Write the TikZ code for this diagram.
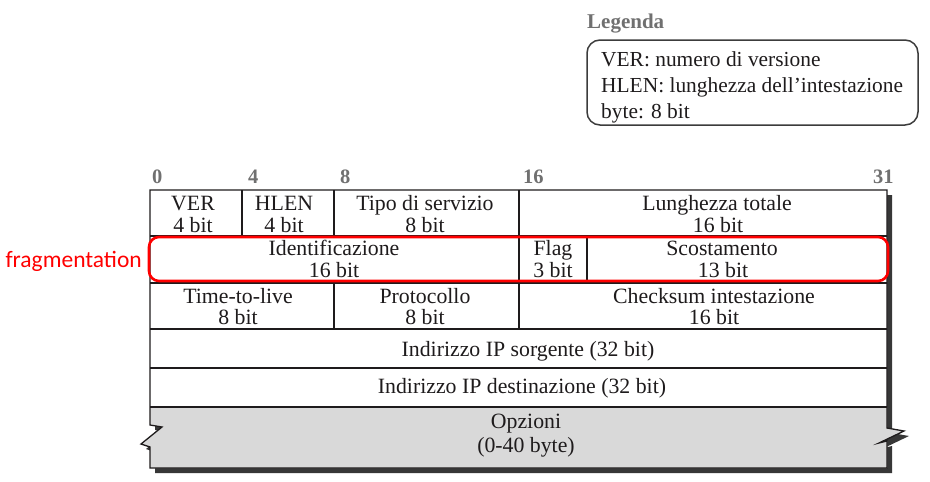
\documentclass[tikz,border=0pt]{standalone}
\usepackage{fontspec}
\setmainfont{Liberation Serif}
\newfontfamily\notefont{Carlito}
\definecolor{ink}{RGB}{30,27,28}
\definecolor{bitgray}{RGB}{112,112,112}
\definecolor{shadowgray}{RGB}{55,55,55}
\definecolor{optfill}{RGB}{217,217,217}
\definecolor{fragred}{RGB}{255,0,0}
\definecolor{boxline}{RGB}{60,60,60}

\begin{document}
\begin{tikzpicture}[x=1pt,y=-1pt,
  txt/.style={inner sep=0pt, text=ink, font=\fontsize{21.8}{22}\selectfont, anchor=base},
  leg/.style={inner sep=0pt, text=ink, font=\fontsize{21.4}{22}\selectfont, anchor=base west},
  bitnum/.style={inner sep=0pt, text=bitgray, font=\fontsize{20.5}{22}\selectfont\bfseries, anchor=base west},
  gridline/.style={draw=ink, line width=1.2pt},
  outline/.style={draw=ink, line width=1.3pt, line join=miter},
  legendbox/.style={draw=boxline, line width=1.5pt, rounded corners=13pt},
  fragbox/.style={draw=fragred, line width=2.6pt, rounded corners=10pt},
  fraglabel/.style={inner sep=0pt, text=fragred, font=\notefont\fontsize{23.5}{25}\selectfont, anchor=base east}]

\useasboundingbox (0,0) rectangle (930,482);

% ---- legend ----
\node[inner sep=0pt, text=bitgray, font=\fontsize{21}{22}\selectfont\bfseries, anchor=base west]
  (legtitle) at (587,28) {Legenda};
\draw[legendbox] (587,40) rectangle (918,125);
\node[leg] (leg1) at (601,66) {VER: numero di versione};
\node[leg] (leg2) at (601,92) {HLEN: lunghezza dell’intestazione};
\node[leg] (leg3) at (601,118) {byte: 8 bit};

% ---- drop shadow of the header block ----
\fill[shadowgray] (155,195) -- (892,195) -- (892,433) -- (909,436) -- (884,448) -- (892,446)
  -- (892,473) -- (155,473) -- (155,452) -- (146,449) -- (167,432) -- (155,430) -- cycle;

% ---- header block body ----
\fill[white] (150,190) -- (887,190) -- (887,428) -- (904,431) -- (879,443) -- (887,441)
  -- (887,468) -- (150,468) -- (150,447) -- (141,444) -- (162,427) -- (150,425) -- cycle;
% options area
\fill[optfill] (150,407) -- (887,407) -- (887,428) -- (904,431) -- (879,443) -- (887,441)
  -- (887,468) -- (150,468) -- (150,447) -- (141,444) -- (162,427) -- (150,425) -- cycle;

% row separators
\draw[gridline] (150,236) -- (887,236);
\draw[gridline] (150,283) -- (887,283);
\draw[gridline] (150,329) -- (887,329);
\draw[gridline] (150,368) -- (887,368);
\draw[gridline] (150,407) -- (887,407);
% column separators
\draw[gridline] (242,190) -- (242,236);
\draw[gridline] (334,190) -- (334,236);
\draw[gridline] (519,190) -- (519,283);
\draw[gridline] (587,236) -- (587,283);
\draw[gridline] (334,283) -- (334,329);
\draw[gridline] (519,283) -- (519,329);

% outer border with the two break marks
\draw[outline] (150,190) -- (887,190) -- (887,428) -- (904,431) -- (879,443) -- (887,441)
  -- (887,468) -- (150,468) -- (150,447) -- (141,444) -- (162,427) -- (150,425) -- cycle;

% ---- bit positions ----
\node[bitnum] (b0)  at (152,183) {0};
\node[bitnum] (b4)  at (248,183) {4};
\node[bitnum] (b8)  at (340,183) {8};
\node[bitnum] (b16) at (523,183) {16};
\node[bitnum] (b31) at (873,183) {31};

% ---- field texts ----
\node[txt] (ver)    at (193,210) {VER};
\node[txt] (verb)   at (193,232) {4 bit};
\node[txt] (hlen)   at (284,210) {HLEN};
\node[txt] (hlenb)  at (284,232) {4 bit};
\node[txt] (tos)    at (425,210) {Tipo di servizio};
\node[txt] (tosb)   at (425,232) {8 bit};
\node[txt] (len)    at (717,210) {Lunghezza totale};
\node[txt] (lenb)   at (718,232) {16 bit};

\node[txt] (ident)  at (334,255) {Identificazione};
\node[txt] (identb) at (334,277) {16 bit};
\node[txt] (flag)   at (553,255) {Flag};
\node[txt] (flagb)  at (553,277) {3 bit};
\node[txt] (off)    at (722,255) {Scostamento};
\node[txt] (offb)   at (723,277) {13 bit};

\node[txt] (ttl)    at (238,303) {Time-to-live};
\node[txt] (ttlb)   at (238,324) {8 bit};
\node[txt] (proto)  at (425,303) {Protocollo};
\node[txt] (protob) at (425,324) {8 bit};
\node[txt] (chk)    at (714,303) {Checksum intestazione};
\node[txt] (chkb)   at (714,324) {16 bit};

\node[txt] (src)    at (528,356) {Indirizzo IP sorgente (32 bit)};
\node[txt] (dst)    at (522,393) {Indirizzo IP destinazione (32 bit)};

\node[txt] (opt)    at (526,428) {Opzioni};
\node[txt] (optb)   at (526,452) {(0-40 byte)};

% ---- fragmentation fields ----
\draw[fragbox] (149,237) rectangle (888,281);
\node[fraglabel] (frag) at (142,267) {fragmentation};

\end{tikzpicture}
\end{document}
